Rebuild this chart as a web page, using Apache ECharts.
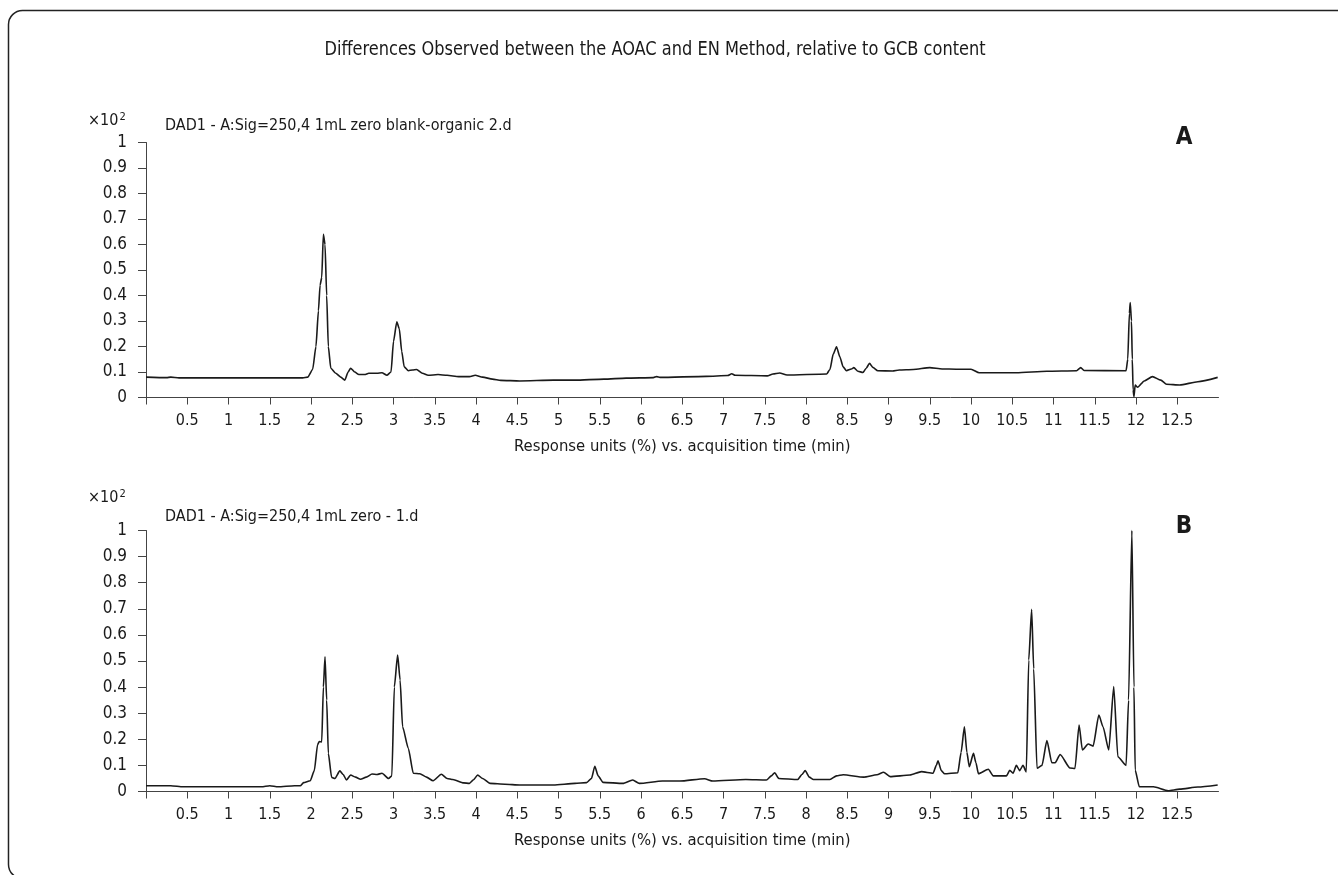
<!DOCTYPE html>
<html><head><meta charset="utf-8">
<script src="https://cdn.jsdelivr.net/npm/echarts@6/dist/echarts.min.js"></script>
<style>html,body{margin:0;padding:0;background:#fff}#c{width:1338px;height:875px}</style>
</head><body><div id="c"></div>
<script>
// ---- data (time in min, response ×10²) ----
const timesA = [0.00,0.25,0.30,0.40,1.00,1.50,1.90,1.96,2.02,2.06,2.09,2.11,2.13,2.15,2.17,2.19,2.21,2.24,2.30,2.36,2.41,2.45,2.48,2.53,2.58,2.65,2.70,2.80,2.86,2.92,2.97,3.00,3.04,3.07,3.10,3.13,3.18,3.23,3.28,3.35,3.42,3.54,3.65,3.79,3.92,3.99,4.08,4.20,4.30,4.53,4.94,5.20,5.55,5.82,6.15,6.19,6.23,6.79,7.05,7.10,7.14,7.53,7.60,7.68,7.77,8.25,8.29,8.33,8.37,8.41,8.45,8.49,8.55,8.58,8.63,8.69,8.73,8.77,8.81,8.87,9.05,9.13,9.30,9.50,9.65,9.82,10.00,10.10,10.55,10.92,11.28,11.33,11.37,11.88,11.90,11.92,11.93,11.945,11.955,11.965,11.975,11.99,12.02,12.10,12.20,12.30,12.37,12.53,12.75,12.99];
const valuesA = [0.080,0.078,0.080,0.077,0.077,0.077,0.077,0.080,0.110,0.200,0.340,0.440,0.470,0.640,0.600,0.400,0.200,0.115,0.095,0.080,0.068,0.100,0.115,0.100,0.090,0.090,0.095,0.095,0.097,0.087,0.100,0.220,0.297,0.270,0.180,0.120,0.105,0.108,0.110,0.095,0.087,0.090,0.087,0.082,0.082,0.087,0.080,0.072,0.067,0.065,0.068,0.068,0.072,0.076,0.078,0.082,0.079,0.083,0.086,0.093,0.087,0.085,0.092,0.096,0.088,0.092,0.110,0.170,0.199,0.160,0.120,0.105,0.112,0.117,0.103,0.098,0.115,0.134,0.118,0.105,0.104,0.108,0.110,0.117,0.112,0.111,0.111,0.097,0.097,0.103,0.105,0.117,0.106,0.105,0.150,0.330,0.372,0.300,0.150,0.030,0.003,0.049,0.040,0.065,0.082,0.068,0.052,0.049,0.062,0.079];

const timesB = [0.00,0.30,0.45,1.00,1.40,1.50,1.60,1.80,1.87,1.91,1.99,2.04,2.08,2.10,2.13,2.15,2.17,2.19,2.21,2.25,2.29,2.35,2.39,2.43,2.48,2.54,2.60,2.67,2.74,2.80,2.86,2.94,2.98,3.01,3.05,3.08,3.11,3.18,3.24,3.32,3.40,3.48,3.58,3.65,3.72,3.85,3.92,3.97,4.02,4.08,4.17,4.35,4.53,4.94,5.20,5.34,5.40,5.44,5.48,5.54,5.78,5.90,5.98,6.26,6.47,6.77,6.87,7.27,7.52,7.58,7.62,7.67,7.90,7.95,7.99,8.04,8.09,8.29,8.37,8.45,8.70,8.86,8.94,9.02,9.26,9.40,9.54,9.58,9.60,9.64,9.68,9.84,9.88,9.92,9.95,9.98,10.03,10.06,10.09,10.21,10.27,10.43,10.47,10.51,10.55,10.59,10.63,10.67,10.70,10.735,10.76,10.80,10.86,10.92,10.98,11.02,11.08,11.20,11.26,11.31,11.35,11.42,11.48,11.55,11.60,11.67,11.73,11.78,11.88,11.91,11.95,11.975,11.99,12.04,12.21,12.39,12.53,12.75,12.99];
const valuesB = [0.022,0.022,0.018,0.018,0.018,0.022,0.018,0.022,0.022,0.034,0.041,0.080,0.180,0.191,0.190,0.400,0.516,0.350,0.146,0.054,0.050,0.079,0.065,0.044,0.063,0.055,0.047,0.055,0.067,0.065,0.070,0.050,0.060,0.400,0.523,0.427,0.248,0.165,0.070,0.068,0.055,0.041,0.066,0.050,0.046,0.033,0.031,0.045,0.063,0.050,0.031,0.028,0.025,0.025,0.031,0.034,0.050,0.097,0.060,0.035,0.031,0.044,0.031,0.040,0.040,0.049,0.040,0.046,0.044,0.060,0.072,0.050,0.046,0.065,0.080,0.055,0.046,0.046,0.060,0.064,0.055,0.064,0.074,0.057,0.063,0.076,0.070,0.100,0.118,0.080,0.068,0.072,0.150,0.248,0.150,0.095,0.146,0.110,0.068,0.085,0.060,0.060,0.081,0.070,0.100,0.080,0.100,0.075,0.504,0.698,0.470,0.089,0.100,0.195,0.110,0.110,0.142,0.090,0.088,0.255,0.159,0.182,0.174,0.293,0.248,0.159,0.402,0.133,0.100,0.350,1.000,0.400,0.082,0.018,0.018,0.003,0.009,0.017,0.025];

const xTickValues = [0,0.5,1,1.5,2,2.5,3,3.5,4,4.5,5,5.5,6,6.5,7,7.5,8,8.5,9,9.5,10,10.5,11,11.5,12,12.5];
const xLabelValues = [0.5,1,1.5,2,2.5,3,3.5,4,4.5,5,5.5,6,6.5,7,7.5,8,8.5,9,9.5,10,10.5,11,11.5,12,12.5];

const mainTitle = 'Differences Observed between the AOAC and EN Method, relative to GCB content';
const xTitle = 'Response units (%) vs. acquisition time (min)';
const traceTitles = ['DAD1 - A:Sig=250,4 1mL zero blank-organic 2.d', 'DAD1 - A:Sig=250,4 1mL zero - 1.d'];
const panelLetters = ['A', 'B'];

const FONT = "'DejaVu Sans Condensed','Liberation Sans Narrow',sans-serif";
const INK = '#1a1a1a';

const zip = (t, v) => t.map((x, i) => [x, v[i]]);

const grids = [
  {left: 146, top: 142.5, width: 1072.5, height: 255},
  {left: 146, top: 530.5, width: 1072.5, height: 261}
];

function xAxis(i) {
  return {
    type: 'value', gridIndex: i, min: 0, max: 13, offset: 6,
    axisLine: {show: true, lineStyle: {color: '#444', width: 1}},
    axisTick: {show: true, length: 7, customValues: xTickValues, lineStyle: {color: '#444', width: 1}},
    axisLabel: {customValues: xLabelValues, margin: 9, fontSize: 16, color: INK, fontFamily: FONT},
    splitLine: {show: false},
    name: xTitle, nameLocation: 'middle', nameGap: 35,
    nameTextStyle: {fontSize: 16.5, color: INK, fontFamily: FONT}
  };
}
function yAxis(i) {
  return {
    type: 'value', gridIndex: i, min: 0, max: 1, interval: 0.1, offset: 3,
    axisLine: {show: true, lineStyle: {color: '#444', width: 1}},
    axisTick: {show: true, length: 8, lineStyle: {color: '#444', width: 1}},
    axisLabel: {margin: 16, fontSize: 17, color: INK, fontFamily: FONT},
    splitLine: {show: false}
  };
}

function txt(text, x, y, size, opts, extra) {
  return Object.assign({type: 'text', x: x, y: y, silent: true, style: Object.assign({
    text: text, fill: INK, font: size + 'px ' + FONT, textAlign: 'left', textVerticalAlign: 'middle'
  }, opts || {})}, extra || {});
}
function scaleLabel(x, y) {
  return {type: 'text', x: x, y: y, silent: true, style: {
    text: '×10{s|2}', fill: INK, font: '16px ' + FONT, textAlign: 'left', textVerticalAlign: 'middle',
    rich: {s: {fontSize: 11, fontFamily: FONT, fill: INK, verticalAlign: 'top', padding: [0, 0, 7, 1]}}
  }};
}

const chart = echarts.init(document.getElementById('c'), null, {renderer: 'canvas'});
chart.setOption({
  animation: false,
  backgroundColor: '#fff',
  grid: grids,
  xAxis: [xAxis(0), xAxis(1)],
  yAxis: [yAxis(0), yAxis(1)],
  series: [
    {type: 'line', xAxisIndex: 0, yAxisIndex: 0, data: zip(timesA, valuesA), showSymbol: false, clip: false,
     smooth: 0.2, smoothMonotone: 'x', lineStyle: {color: INK, width: 1.6}},
    {type: 'line', xAxisIndex: 1, yAxisIndex: 1, data: zip(timesB, valuesB), showSymbol: false, clip: false,
     smooth: 0.2, smoothMonotone: 'x', lineStyle: {color: INK, width: 1.6}}
  ],
  graphic: [
    {type: 'rect', silent: true, shape: {x: 8.5, y: 10.5, width: 1400, height: 868, r: 14},
     style: {fill: 'none', stroke: '#222', lineWidth: 1.5}},
    txt(mainTitle, 655, 50, 20, {textAlign: 'center'}, {scaleX: 0.9}),
    scaleLabel(88, 121),
    scaleLabel(88, 498),
    txt(traceTitles[0], 165, 126, 16),
    txt(traceTitles[1], 165, 517, 16),
    txt(panelLetters[0], 1184, 138, 24, {textAlign: 'center', font: 'bold 24px ' + FONT}),
    txt(panelLetters[1], 1184, 527, 24, {textAlign: 'center', font: 'bold 24px ' + FONT})
  ]
});
</script>
</body></html>
